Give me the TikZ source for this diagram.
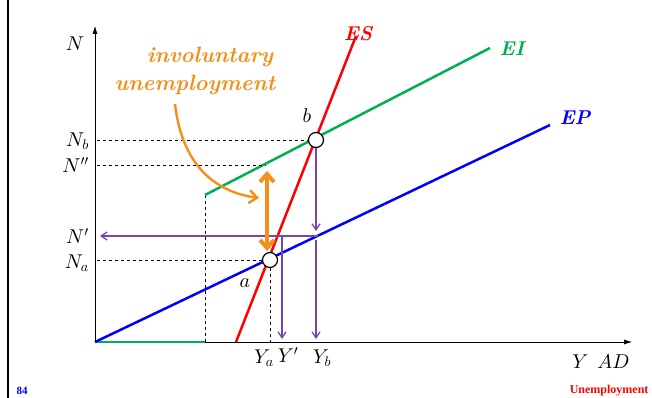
\documentclass[tikz,border=0pt]{standalone}
\usepackage{fontspec}
\usepackage{amsmath}
\usetikzlibrary{arrows.meta,positioning}
\DeclareFontShape{OML}{cmm}{m}{it}{<->cmmi10}{}
\DeclareFontShape{OMS}{cmsy}{m}{n}{<->cmsy10}{}
\DeclareFontShape{OT1}{cmr}{m}{n}{<->cmr10}{}
\newfontfamily\footfont{Liberation Serif}
\definecolor{eigreen}{RGB}{0,176,80}
\definecolor{orangeish}{RGB}{247,142,24}
\definecolor{violetline}{RGB}{120,70,170}

\begin{document}
\begin{tikzpicture}[x=1pt,y=-1pt,
        axis/.style={semithick, -{Latex[length=8pt,width=5pt]}},
        curve/.style={line width=2.5pt},
        guide/.style={dashed, semithick},
        proj/.style={violetline, line width=1.3pt, -{Straight Barb[length=6pt,width=8pt]}},
        dot/.style={circle, draw, line width=1.2pt, fill=white, minimum size=15pt, inner sep=0pt},
        lbl/.style={font=\fontsize{20}{22}\selectfont, inner sep=0pt},
        crvlbl/.style={font=\fontsize{20}{22}\selectfont\bfseries\itshape},
        unlbl/.style={font=\fontsize{22}{24}\selectfont\bfseries\itshape, orangeish}]

        \useasboundingbox (0,0) rectangle (652,398);
        \draw[line width=2.5pt] (8,0) -- (8,398);

        % axes
        \coordinate (O) at (95,342);
        \coordinate (ytop) at (95,26);
        \coordinate (xend) at (632,342);
        \draw[axis] (O) -- (ytop);
        \draw[axis] (O) -- (xend);
        \node[lbl] (nlab) at (75,44) {$N$};
        \node[lbl] (ylab) at (601,362) {$Y\;\,AD$};

        % curves
        \coordinate (ei0) at (205,195);
        \coordinate (ei1) at (490,48);
        \coordinate (ep1) at (550,125);
        \coordinate (es0) at (236,342);
        \coordinate (es1) at (356,36);
        \coordinate (kink) at (205,342);
        \draw[curve, eigreen] (O) -- (kink);
        \draw[guide] (kink) -- (ei0);
        \draw[curve, eigreen] (ei0) -- (ei1);
        \draw[curve, blue] (O) -- (ep1);
        \draw[curve, red] (es0) -- (es1);
        \node[crvlbl, red] (eslab) at (358,34) {ES};
        \node[crvlbl, eigreen] (eilab) at (512,49) {EI};
        \node[crvlbl, blue] (eplab) at (575,118) {EP};

        % equilibria
        \node[dot] (b) at (316,140) {};
        \node[dot] (a) at (270,260) {};
        \node[lbl] (blab) at (307,116) {$b$};
        \node[lbl] (alab) at (245,283) {$a$};

        % levels on the N axis
        \node[lbl, anchor=east] (nb) at (89,141) {$N_b$};
        \node[lbl, anchor=east] (npp) at (89,165) {$N''$};
        \node[lbl, anchor=east] (np) at (89,236) {$N'$};
        \node[lbl, anchor=east] (na) at (89,263) {$N_a$};
        \coordinate (eiN) at (266,165);
        \draw[guide] (97,140) -- (b.west);
        \draw[guide] (97,165) -- (eiN);
        \draw[guide] (97,260) -- (a.west);
        \draw[guide] (a.south) -- (270,342);

        % projections
        \coordinate (epY) at (318,236);
        \coordinate (esY) at (282,236);
        \draw[proj] (epY) -- (100,236);
        \draw[proj] (b.south) -- (316,231);
        \draw[proj] (316,240) -- (316,339);
        \draw[proj] (esY) -- (282,339);
        \node[lbl] (ya) at (264,358) {$Y_a$};
        \node[lbl] (yp) at (288,355) {$Y'$};
        \node[lbl] (yb) at (322,358) {$Y_b$};

        % involuntary unemployment
        \node[unlbl] (invol) at (210,57) {involuntary};
        \node[unlbl] (unemp) at (195,85) {unemployment};
        \coordinate (bend) at (175,104);
        \coordinate (gap) at (259,198);
        \draw[orangeish, line width=2.4pt, -{Straight Barb[length=8pt,width=13pt]}]
            (bend) .. controls (182,165) and (215,192) .. (gap);
        \coordinate (gtop) at (267,171);
        \coordinate (gbot) at (267,251);
        \draw[orangeish, line width=4pt, {Straight Barb[length=8pt,width=14pt]}-{Straight Barb[length=8pt,width=14pt]}]
            (gtop) -- (gbot);

        % footer
        \node[font=\footfont\fontsize{11}{12}\selectfont\bfseries, blue] (page) at (22,391) {84};
        \node[font=\footfont\fontsize{12}{13}\selectfont\bfseries, red, anchor=east] (title) at (652,391) {Unemployment};
    \end{tikzpicture}
\end{document}
